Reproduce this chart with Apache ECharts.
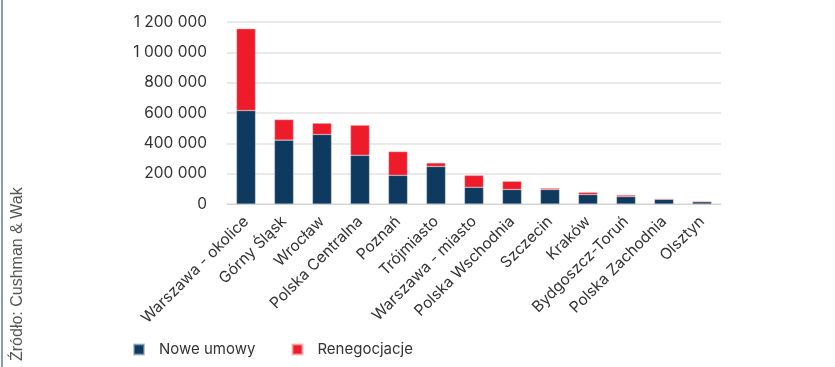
<!DOCTYPE html>
<html>
<head>
<meta charset="utf-8">
<script src="https://cdn.jsdelivr.net/npm/echarts@6/dist/echarts.min.js"></script>
<style>
  html, body { margin: 0; padding: 0; background: #fff; }
  #chart { width: 835px; height: 367px; }
</style>
</head>
<body>
<div id="chart"></div>
<script>
// regiony
const categories = ['Warszawa - okolice', 'Górny Śląsk', 'Wrocław', 'Polska Centralna', 'Poznań',
  'Trójmiasto', 'Warszawa - miasto', 'Polska Wschodnia', 'Szczecin', 'Kraków',
  'Bydgoszcz-Toruń', 'Polska Zachodnia', 'Olsztyn']
// m2
const noweUmowy = [616000, 421000, 458000, 321000, 189000, 247000, 110000, 95000, 95000, 62000, 48000, 31000, 15000]
const renegocjacje = [540000, 136000, 75000, 199000, 157000, 24000, 79000, 55000, 9000, 15000, 11000, 0, 0]
const yTicks = [0, 200000, 400000, 600000, 800000, 1000000, 1200000]

const fontFam = 'Inter, sans-serif'
const chart = echarts.init(document.getElementById('chart'))

const option = {
  animation: false,
  grid: { left: 227, right: 114, top: 22, bottom: 163 },
  legend: {
    left: 128,
    top: 337,
    icon: 'rect',
    itemWidth: 10,
    itemHeight: 10,
    itemGap: 36,
    textStyle: { color: '#333', fontSize: 15, fontFamily: fontFam, padding: [0, 0, 0, 10] },
    data: ['Nowe umowy', 'Renegocjacje']
  },
  xAxis: {
    type: 'category',
    data: categories,
    axisLine: { lineStyle: { color: '#d4d4d4', width: 1 } },
    axisTick: { show: false },
    axisLabel: {
      interval: 0,
      rotate: 45,
      margin: 15,
      color: '#333',
      fontSize: 15.5,
      fontFamily: fontFam
    }
  },
  yAxis: {
    type: 'value',
    min: yTicks[0],
    max: yTicks[yTicks.length - 1],
    interval: 200000,
    axisLine: { show: false },
    axisTick: { show: false },
    splitLine: { lineStyle: { color: '#e3e3e3', width: 1.5 } },
    axisLabel: {
      margin: 20,
      color: '#333',
      fontSize: 15.5,
      fontFamily: fontFam,
      formatter: v => String(v).replace(/\B(?=(\d{3})+(?!\d))/g, ' ')
    }
  },
  series: [
    {
      name: 'Nowe umowy',
      type: 'bar',
      stack: 'total',
      barWidth: '50%',
      data: noweUmowy,
      itemStyle: { color: '#0f3a5f', borderColor: 'rgba(140,160,190,0.6)', borderWidth: 0.6 }
    },
    {
      name: 'Renegocjacje',
      type: 'bar',
      stack: 'total',
      data: renegocjacje,
      itemStyle: { color: '#ee1c2b', borderColor: 'rgba(250,170,170,0.7)', borderWidth: 0.6 }
    }
  ],
  graphic: [
    {
      type: 'rect',
      left: 1,
      top: 0,
      shape: { width: 2, height: 367 },
      style: { fill: '#8d98c8' }
    },
    {
      type: 'text',
      x: 26,
      y: 361,
      rotation: Math.PI / 2,
      style: {
        text: 'Źródło: Cushman & Wak',
        fill: '#555',
        font: '16px "Liberation Sans", Arial, sans-serif',
        textVerticalAlign: 'bottom'
      }
    }
  ]
}
chart.setOption(option)
</script>
</body>
</html>
